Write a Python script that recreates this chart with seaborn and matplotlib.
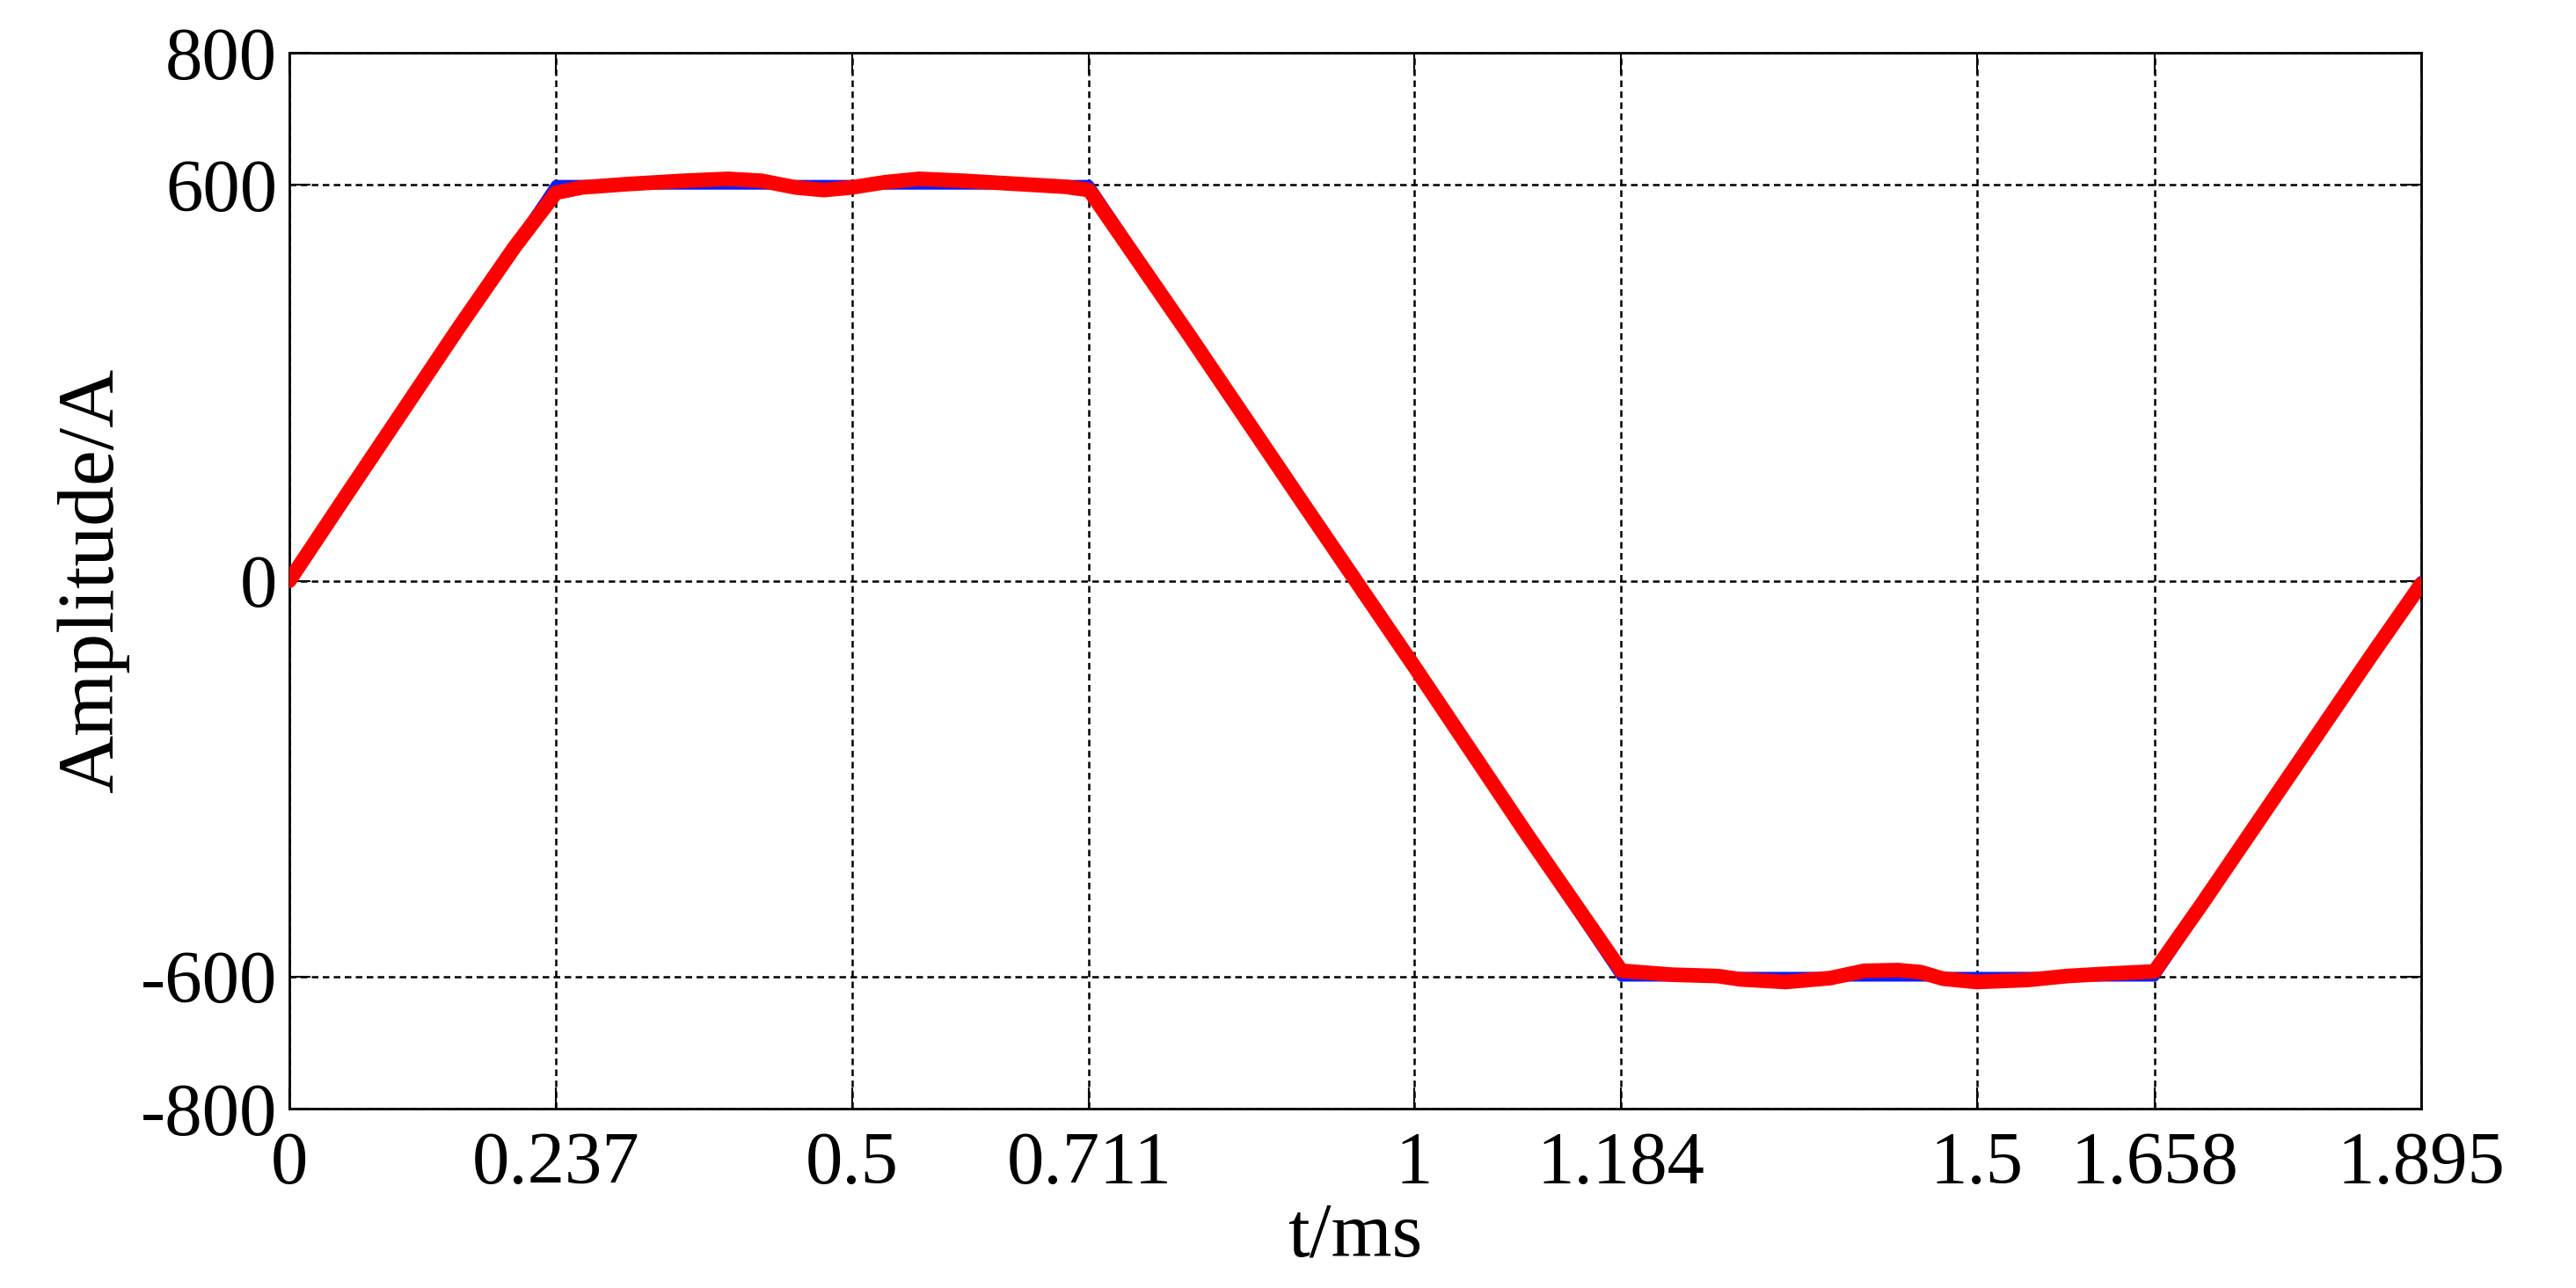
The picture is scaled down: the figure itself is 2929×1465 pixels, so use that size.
import matplotlib
matplotlib.use("Agg")
import matplotlib.pyplot as plt
import seaborn as sns
import pandas as pd

# reference trapezoid (blue)
ref_t = [0.0, 0.237, 0.711, 1.184, 1.658, 1.895]
ref_amp = [0, 600, 600, -600, -600, 0]

meas_t = [0.000, 0.050, 0.100, 0.150, 0.200, 0.237, 0.260, 0.300, 0.350, 0.390,
          0.420, 0.450, 0.475, 0.500, 0.530, 0.560, 0.600, 0.650, 0.690, 0.711,
          0.800, 0.900, 0.948, 1.000, 1.100, 1.184, 1.230, 1.270, 1.290, 1.330,
          1.370, 1.400, 1.430, 1.450, 1.470, 1.500, 1.545, 1.580, 1.610, 1.633,
          1.658, 1.700, 1.750, 1.800, 1.850, 1.895]
meas_amp = [0, 128, 255, 382, 505, 588, 596, 601, 606, 609,
            606, 596, 592, 596, 604, 609, 606, 601, 597, 592,
            372, 120, 0, -130, -384, -591, -597, -599, -604, -608,
            -602, -591, -590, -593, -603, -608, -605, -599, -596, -594,
            -592, -490, -365, -240, -115, -5]

xtick_vals = [0, 0.237, 0.5, 0.711, 1, 1.184, 1.5, 1.658, 1.895]
xtick_labels = ["0", "0.237", "0.5", "0.711", "1", "1.184", "1.5", "1.658", "1.895"]
ytick_vals = [-800, -600, 0, 600, 800]

sns.set_style("ticks")
plt.rcParams['font.family'] = ['Liberation Serif', 'DejaVu Serif']
plt.rcParams['axes.unicode_minus'] = False
plt.rcParams['text.color'] = 'black'
plt.rcParams['axes.labelcolor'] = 'black'

fig, ax = plt.subplots(figsize=(29.29, 14.65), dpi=100)
fig.subplots_adjust(left=0.1123, right=0.9399, top=0.959, bottom=0.1392)

ref_df = pd.DataFrame({"t": ref_t, "amp": ref_amp})
meas_df = pd.DataFrame({"t": meas_t, "amp": meas_amp})

sns.lineplot(data=ref_df, x="t", y="amp", ax=ax, color="#0a1eff", linewidth=8, sort=False, zorder=3)
sns.lineplot(data=meas_df, x="t", y="amp", ax=ax, color="#ff0000", linewidth=12, sort=False, zorder=4)

ax.set_xlim(0, 1.895)
ax.set_ylim(-800, 800)
ax.set_xticks(xtick_vals)
ax.set_xticklabels(xtick_labels)
ax.set_yticks(ytick_vals)

ax.set_axisbelow(True)
ax.grid(True, color="k", linestyle=(0, (3, 2)), linewidth=1.8)

for s in ax.spines.values():
    s.set_visible(True)
    s.set_linewidth(2)
    s.set_color("k")

ax.tick_params(direction="in", top=True, right=True, length=17, width=1.5,
               labelsize=61, colors="k")
ax.tick_params(axis="x", pad=19)
ax.tick_params(axis="y", pad=10)

ax.set_xlabel("t/ms", fontsize=64, va="top")
ax.xaxis.set_label_coords(0.5, -0.088)
ax.set_ylabel("Amplitude/A", fontsize=66, va="center")
ax.yaxis.set_label_coords(-0.092, 0.5)

fig.savefig("out.png", dpi=100, facecolor="white")
